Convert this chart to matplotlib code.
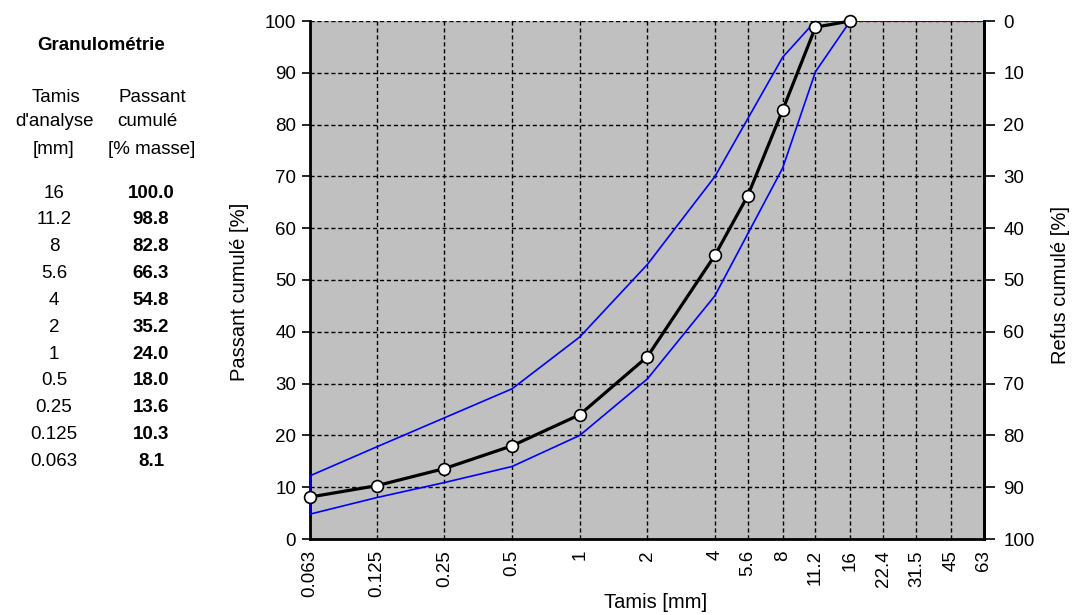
import numpy as np
import matplotlib.pyplot as plt
from matplotlib.ticker import FixedLocator, NullLocator

plt.rcParams['font.family'] = ['Liberation Sans', 'DejaVu Sans']

# sieve sizes [mm] and cumulative passing [%]
tamis = [16, 11.2, 8, 5.6, 4, 2, 1, 0.5, 0.25, 0.125, 0.063]
passant = [100.0, 98.8, 82.8, 66.3, 54.8, 35.2, 24.0, 18.0, 13.6, 10.3, 8.1]
tamis_lbl = ["16", "11.2", "8", "5.6", "4", "2", "1", "0.5", "0.25", "0.125", "0.063"]

# envelope (fuseau)
fus_x = [0.063, 0.125, 0.25, 0.5, 1, 2, 4, 8, 11.2, 16, 22.4, 31.5, 45, 63]
fus_sup = [12.2, 17.8, 23.4, 29.0, 39.0, 53.0, 70.0, 93.0, 100, 100, 100, 100, 100, 100]
fus_inf = [4.8, 8.0, 10.9, 14.0, 20.0, 30.9, 47.0, 71.6, 90.2, 100, 100, 100, 100, 100]

xticks = [0.063, 0.125, 0.25, 0.5, 1, 2, 4, 5.6, 8, 11.2, 16, 22.4, 31.5, 45, 63]
xlabels = ["0.063", "0.125", "0.25", "0.5", "1", "2", "4", "5.6", "8", "11.2", "16", "22.4", "31.5", "45", "63"]

FS = 13.5
W, H = 1074, 615

fig = plt.figure(figsize=(10.74, 6.15), dpi=100)
ax = fig.add_axes([310/W, 76/H, 674/W, 518/H])
ax.set_facecolor('#C0C0C0')
ax.set_xscale('log')
ax.set_xlim(0.063, 63)
ax.set_ylim(0, 100)

ax.xaxis.set_major_locator(FixedLocator(xticks))
ax.xaxis.set_minor_locator(NullLocator())
ax.set_xticklabels(xlabels, rotation=90, fontsize=FS)
ax.tick_params(axis='x', length=0, pad=8)
ax.set_yticks(np.arange(0, 101, 10))
ax.tick_params(axis='y', length=6, width=1.2, pad=4, labelsize=FS, direction='out')

ax.grid(True, color='black', linestyle=(0, (3, 2)), linewidth=1.0)
ax.set_axisbelow(True)

ax.spines['top'].set_visible(False)
for s in ['left', 'bottom', 'right']:
    ax.spines[s].set_linewidth(2)

ax.plot(fus_x, fus_sup, color='#0000FF', lw=1.2, zorder=3)
ax.plot(fus_x, fus_inf, color='#0000FF', lw=1.2, zorder=3)
ax.plot([fus_x[0], fus_x[0]], [fus_inf[0], fus_sup[0]], color='#0000FF', lw=1.2, zorder=3)

ax.plot(tamis, passant, color='black', lw=2.3, marker='o', markersize=8.5,
        markerfacecolor='white', markeredgecolor='black', markeredgewidth=1.2,
        zorder=4, clip_on=False)

ax2 = ax.twinx()
ax2.set_ylim(100, 0)
ax2.set_yticks(np.arange(0, 101, 10))
ax2.tick_params(axis='y', length=8, width=1.2, pad=6, labelsize=FS)
for s in ['top', 'left', 'bottom']:
    ax2.spines[s].set_visible(False)
ax2.spines['right'].set_linewidth(2)

def ft(x, y, s, **kw):
    kw.setdefault('fontsize', FS)
    fig.text(x / W, 1 - y / H, s, ha='center', va='center', **kw)

# axis titles
ft(656, 602, 'Tamis [mm]', fontsize=14.5)
ft(240, 292, 'Passant cumulé [%]', fontsize=14.5, rotation=90)
ft(1060, 285, 'Refus cumulé [%]', fontsize=14.5, rotation=90)

# table on the left
ft(101, 45, 'Granulométrie', fontweight='bold')
ft(56, 97, 'Tamis')
ft(54, 122, "d'analyse")
ft(54, 149, '[mm]')
ft(152, 97, 'Passant')
ft(147, 122, 'cumulé')
ft(152, 149, '[% masse]')
for i, (t, p) in enumerate(zip(tamis_lbl, passant)):
    y = 193 + i * 26.85
    ft(54, y, t)
    ft(151, y, '%.1f' % p, fontweight='bold')

fig.savefig('out.png', dpi=100)
